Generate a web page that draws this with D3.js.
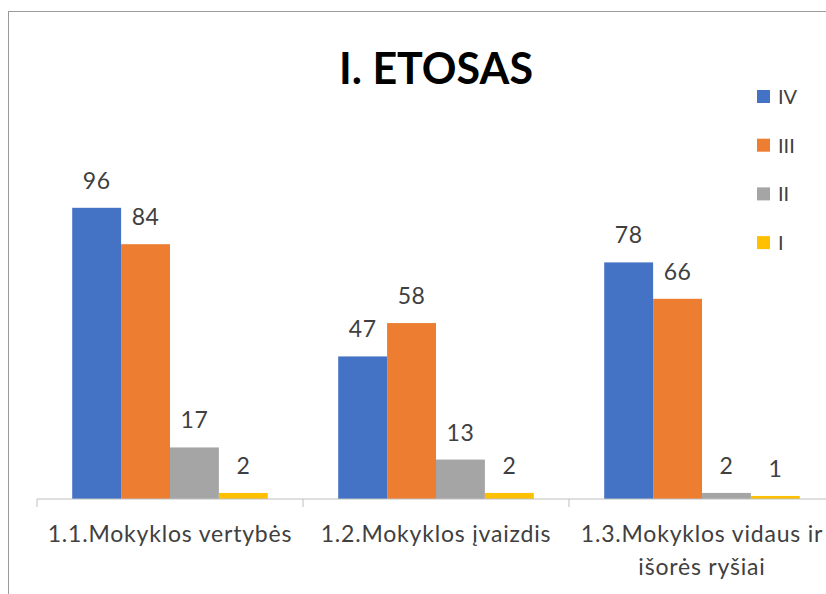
<!DOCTYPE html>
<html>
<head>
<meta charset="utf-8">
<script src="https://cdn.jsdelivr.net/npm/d3@7"></script>
<style>
  body { margin: 0; background: #fff; }
  text { font-family: Lato, "Open Sans", sans-serif; }
</style>
</head>
<body>
<script>
"use strict";

// chart data
var categories = ["1.1.Mokyklos vertybės", "1.2.Mokyklos įvaizdis", "1.3.Mokyklos vidaus ir išorės ryšiai"];
var seriesNames = ["IV", "III", "II", "I"];
var seriesIV = [96, 47, 78];
var seriesIII = [84, 58, 66];
var seriesII = [17, 13, 2];
var seriesI = [2, 2, 1];
var colours = ["#4472C4", "#ED7D31", "#A5A5A5", "#FFC000"];

var allSeries = [seriesIV, seriesIII, seriesII, seriesI];

var width = 826,
    height = 594,
    margin = { top: 135, right: -9, bottom: 95, left: 37 };

var svg = d3.select("body").append("svg")
    .attr("width", width)
    .attr("height", height);

// chart frame
svg.append("rect")
    .attr("x", 8.5)
    .attr("y", 11.5)
    .attr("width", width + 20)
    .attr("height", height + 20)
    .attr("fill", "none")
    .attr("stroke", "#9a9a9a")
    .attr("stroke-width", 1);

var x0 = d3.scaleBand()
    .domain(categories)
    .range([margin.left, width - margin.right])
    .paddingInner(0)
    .paddingOuter(0);

var x1 = d3.scaleBand()
    .domain(seriesNames)
    .range([0, x0.bandwidth()])
    .paddingOuter(0.72)
    .paddingInner(0);

var y = d3.scaleLinear()
    .domain([0, 120])
    .range([height - margin.bottom, margin.top]);

// title
svg.append("text")
    .attr("x", 436)
    .attr("y", 84)
    .attr("text-anchor", "middle")
    .style("font-size", "43px")
    .style("font-weight", "bold")
    .attr("fill", "#000")
    .text("I. ETOSAS");

// bars
var groups = svg.append("g").attr("class", "groups")
    .selectAll("g")
    .data(categories)
    .enter().append("g")
    .attr("transform", function (d) { return "translate(" + x0(d) + ",0)"; });

groups.selectAll("rect")
    .data(function (d, i) {
        return seriesNames.map(function (s, j) {
            return { series: s, value: allSeries[j][i], colour: colours[j] };
        });
    })
    .enter().append("rect")
    .attr("x", function (d) { return x1(d.series); })
    .attr("y", function (d) { return y(d.value); })
    .attr("width", x1.bandwidth())
    .attr("height", function (d) { return y(0) - y(d.value); })
    .attr("fill", function (d) { return d.colour; });

groups.selectAll("text.value")
    .data(function (d, i) {
        return seriesNames.map(function (s, j) {
            return { series: s, value: allSeries[j][i] };
        });
    })
    .enter().append("text")
    .attr("class", "value")
    .attr("x", function (d) { return x1(d.series) + x1.bandwidth() / 2; })
    .attr("y", function (d) { return y(d.value) - 19; })
    .attr("text-anchor", "middle")
    .style("font-size", "23px")
    .style("letter-spacing", "0.5px")
    .attr("fill", "#404040")
    .text(function (d) { return d.value; });

// x axis
var axis = svg.append("g")
    .attr("transform", "translate(0," + y(0) + ")");

axis.append("line")
    .attr("x1", x0.range()[0])
    .attr("x2", x0.range()[1])
    .attr("stroke", "#bfbfbf");

axis.selectAll("line.tick")
    .data(categories.concat([null]))
    .enter().append("line")
    .attr("class", "tick")
    .attr("x1", function (d) { return d === null ? x0.range()[1] : x0(d); })
    .attr("x2", function (d) { return d === null ? x0.range()[1] : x0(d); })
    .attr("y1", 0)
    .attr("y2", 8)
    .attr("stroke", "#bfbfbf");

// category labels, wrapped to the band width
var maxLabel = 250;
axis.selectAll("text.cat")
    .data(categories)
    .enter().append("text")
    .attr("class", "cat")
    .attr("text-anchor", "middle")
    .style("font-size", "23px")
    .style("letter-spacing", "0.8px")
    .attr("fill", "#404040")
    .each(function (d) {
        var t = d3.select(this);
        var cx = x0(d) + x0.bandwidth() / 2;
        var words = d.split(" ");
        var line = [];
        var lineNo = 0;
        var tspan = t.append("tspan").attr("x", cx).attr("y", 43);
        words.forEach(function (w) {
            line.push(w);
            tspan.text(line.join(" "));
            if (tspan.node().getComputedTextLength() > maxLabel && line.length > 1) {
                line.pop();
                tspan.text(line.join(" "));
                line = [w];
                lineNo++;
                tspan = t.append("tspan").attr("x", cx).attr("y", 43 + lineNo * 33).text(w);
            }
        });
    });

// legend
var legend = svg.append("g")
    .attr("class", "legend")
    .selectAll("g")
    .data(seriesNames)
    .enter().append("g")
    .attr("transform", function (d, i) { return "translate(757," + (97 + i * 48.7) + ")"; });

legend.append("rect")
    .attr("x", 0)
    .attr("y", -7)
    .attr("width", 13)
    .attr("height", 13)
    .attr("fill", function (d, i) { return colours[i]; });

legend.append("text")
    .attr("x", 21)
    .attr("y", 7)
    .style("font-size", "20px")
    .attr("fill", "#404040")
    .text(function (d) { return d; });
</script>
</body>
</html>
